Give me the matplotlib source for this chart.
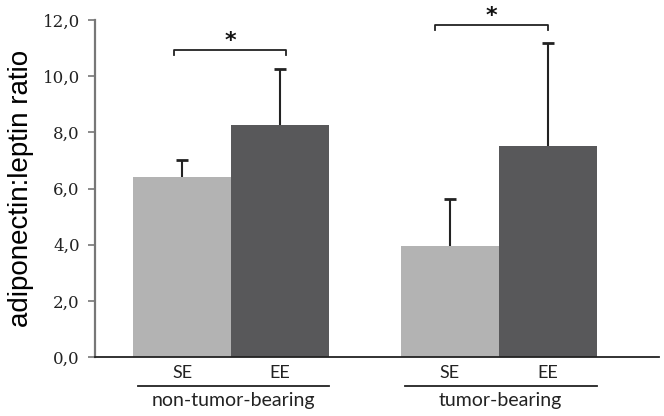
import matplotlib
matplotlib.use("Agg")
import matplotlib.pyplot as plt

grupos = ["non-tumor-bearing", "tumor-bearing"]
condicoes = ["SE", "EE", "SE", "EE"]
medias = [6.4, 8.27, 3.97, 7.52]
erros = [0.62, 2.0, 1.66, 3.67]
posicoes = [0, 1, 2.73, 3.73]
yticks = [0, 2, 4, 6, 8, 10, 12]
ytick_labels = ["0,0", "2,0", "4,0", "6,0", "8,0", "10,0", "12,0"]

cores = {"SE": "#b3b3b3", "EE": "#58585a"}

fig = plt.figure(figsize=(6.64, 4.16), dpi=100)
ax = fig.add_axes([95 / 664, 1 - 357 / 416, (659 - 95) / 664, 337 / 416])

ax.bar(posicoes, medias, width=1.0, color=[cores[c] for c in condicoes],
       edgecolor="none", zorder=2)
# barras de erro so para cima
topos = [m + e for m, e in zip(medias, erros)]
ax.vlines(posicoes, medias, topos, color="#222222", lw=1.5, zorder=3)
ax.plot(posicoes, topos, ls="none", marker="_", ms=8, mew=2, color="#222222", zorder=3)

ax.set_xlim(-0.888, 4.867)
ax.set_ylim(0, 12)
ax.set_yticks(yticks)
ax.set_yticklabels(ytick_labels, fontfamily="DejaVu Serif", fontsize=12, color="#222222")
ax.set_xticks([])
ax.tick_params(axis="y", direction="out", length=5, width=1.2, color="#777777", pad=6)

for lado in ["top", "right"]:
    ax.spines[lado].set_visible(False)
ax.spines["left"].set_color("#777777")
ax.spines["left"].set_linewidth(1.6)
ax.spines["bottom"].set_color("#222222")
ax.spines["bottom"].set_linewidth(1.3)

ax.set_ylabel("adiponectin:leptin ratio", fontfamily="Liberation Sans", fontsize=20, labelpad=6)

# rotulos SE/EE e grupos abaixo do eixo
trans = ax.get_xaxis_transform()
for x, c in zip(posicoes, condicoes):
    ax.text(x, -0.048, c, transform=trans, ha="center", va="center",
            fontfamily="Lato", fontsize=13, color="#222222")
for i, g in enumerate(grupos):
    x0, x1 = posicoes[2 * i], posicoes[2 * i + 1]
    ax.plot([x0 - 0.45, x1 + 0.5], [-0.085, -0.085], transform=trans,
            color="#222222", lw=1.3, clip_on=False)
    ax.text((x0 + x1) / 2 + 0.02, -0.13, g, transform=trans, ha="center", va="center",
            fontfamily="Lato", fontsize=14, color="#222222")

# colchetes de significancia
colchetes = [(-0.08, 1.06, 10.94), (2.58, 3.73, 11.82)]
for xa, xb, y in colchetes:
    ax.plot([xa, xa, xb, xb], [y - 0.18, y, y, y - 0.18], color="#222222",
            lw=1.3, clip_on=False)
    ax.text((xa + xb) / 2, y + 0.32, "*", ha="center", va="center",
            fontsize=16, fontweight="bold", color="#111111", clip_on=False)

fig.savefig("out.png", dpi=100)
plt.close(fig)
